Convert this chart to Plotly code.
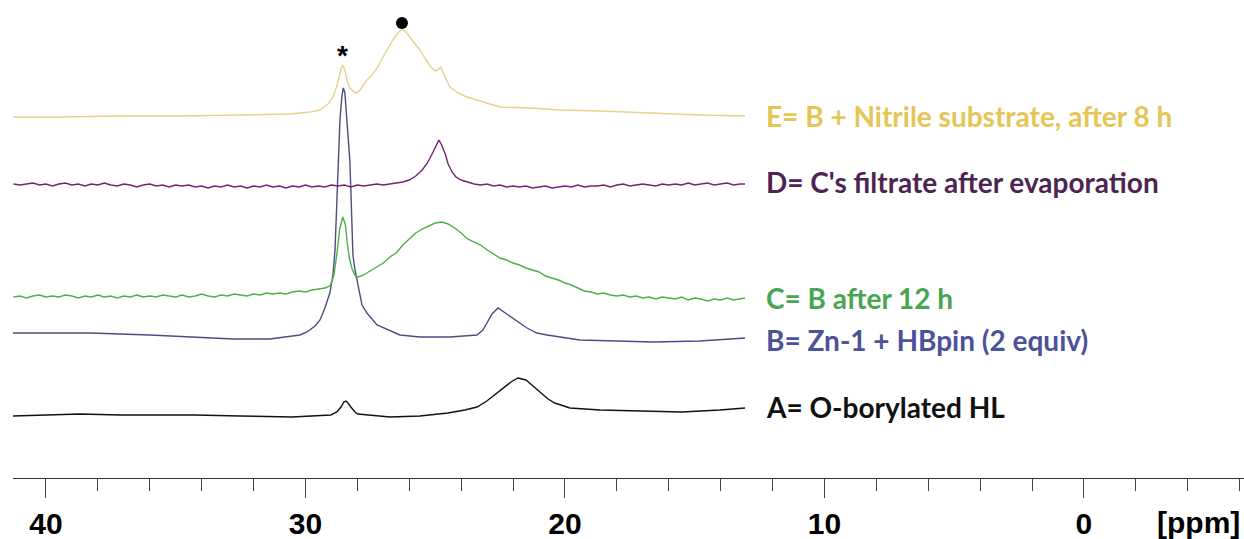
import plotly.graph_objects as go

# ---------------- data (chemical shift in ppm, signal height above each trace's baseline) -------------
ppm_A = [41.27, 40.23, 38.69, 37.15, 35.61, 34.26, 32.52, 30.52, 29.02, 28.79, 28.63, 28.52, 28.44,
         28.36, 28.25, 28.09, 27.98, 26.74, 25.59, 24.51, 23.85, 23.39, 23.01, 22.62, 22.31, 22.08,
         21.81, 21.65, 21.50, 21.23, 20.92, 20.65, 20.39, 19.81, 18.65, 17.38, 15.49, 14.03, 13.06]
int_A = [0, 1, 2, 1, 1, 1, 0, -1, 1, 4, 9, 14, 15,
         13, 9, 4, 2, -1, 0, 3, 6, 9, 15, 23, 30, 34,
         38, 37, 36, 30, 23, 17, 13, 8, 6, 5, 4, 6, 8]

ppm_B = [41.27, 38.30, 35.99, 34.07, 32.79, 31.37, 30.21, 29.94, 29.63, 29.44, 29.25, 29.06, 28.94,
         28.86, 28.80, 28.75, 28.67, 28.59, 28.54, 28.48, 28.40, 28.32, 28.29, 28.25, 28.21, 28.17,
         28.09, 28.02, 27.82, 27.63, 27.24, 26.36, 25.59, 24.43, 23.39, 23.16, 23.01, 22.81, 22.58,
         22.31, 22.00, 21.73, 21.46, 21.08, 20.69, 19.42, 17.88, 16.61, 14.80, 13.26, 13.06]
int_B = [0, 0, -2, -4, -6, -6, -2, 1, 7, 13, 25, 40, 58,
         83, 123, 173, 213, 238, 245, 240, 213, 183, 173, 143, 108, 78,
         63, 53, 28, 20, 8, -2, -4, -4, -2, 3, 10, 19, 25,
         20, 15, 10, 5, 0, -2, -7, -8, -9, -8, -5, -5]

ppm_C = [41.25, 41.0, 40.75, 40.5, 40.25, 40.0, 39.75, 39.5, 39.25, 39.0, 38.75, 38.5, 38.25, 38.0,
         37.75, 37.5, 37.25, 37.0, 36.75, 36.5, 36.25, 36.0, 35.75, 35.5, 35.25, 35.0, 34.75, 34.5,
         34.25, 34.0, 33.75, 33.5, 33.25, 33.0, 32.75, 32.5, 32.25, 32.0, 31.75, 31.5, 31.25, 31.0,
         30.75, 30.5, 30.25, 30.0, 29.75, 29.5, 29.25, 29.05, 28.9, 28.78, 28.68, 28.56, 28.46, 28.38,
         28.3, 28.2, 28.1, 28.0, 27.85, 27.7, 27.5, 27.25, 27.0, 26.75, 26.5, 26.25, 26.0, 25.75,
         25.5, 25.25, 25.0, 24.75, 24.5, 24.25, 24.0, 23.75, 23.5, 23.25, 23.0, 22.75, 22.5, 22.25,
         22.0, 21.75, 21.5, 21.25, 21.0, 20.75, 20.5, 20.25, 20.0, 19.75, 19.5, 19.25, 19.0, 18.75,
         18.5, 18.25, 18.0, 17.75, 17.5, 17.25, 17.0, 16.75, 16.5, 16.25, 16.0, 15.75, 15.5, 15.25,
         15.0, 14.75, 14.5, 14.25, 14.0, 13.75, 13.5, 13.25, 13.06]
int_C = [0, 1, -1, 1, 2, 0, 1, 0, 2, 1, -1, 1, 0, 2,
         0, 1, -1, 1, 0, 2, 0, 1, 0, 2, 1, 0, 2, 0,
         1, 3, 1, 0, 2, 1, 3, 2, 1, 3, 2, 4, 3, 4,
         3, 5, 6, 5, 7, 8, 9, 11, 22, 45, 68, 80, 72, 52,
         38, 28, 22, 20, 21, 23, 26, 30, 34, 40, 44, 52, 58, 64,
         68, 71, 74, 75, 73, 69, 64, 58, 55, 52, 47, 43, 39, 37,
         34, 32, 29, 27, 25, 21, 19, 17, 14, 12, 9, 6, 5, 3,
         4, 2, 1, 2, 0, 1, -1, 0, -2, 0, -1, -2, 0, -3,
         -1, -2, -4, -2, -3, -1, -3, -2, -1]

ppm_D = [41.25, 41.0, 40.75, 40.5, 40.25, 40.0, 39.75, 39.5, 39.25, 39.0, 38.75, 38.5, 38.25, 38.0,
         37.75, 37.5, 37.25, 37.0, 36.75, 36.5, 36.25, 36.0, 35.75, 35.5, 35.25, 35.0, 34.75, 34.5,
         34.25, 34.0, 33.75, 33.5, 33.25, 33.0, 32.75, 32.5, 32.25, 32.0, 31.75, 31.5, 31.25, 31.0,
         30.75, 30.5, 30.25, 30.0, 29.75, 29.5, 29.25, 29.0, 28.75, 28.5, 28.25, 28.0, 27.75, 27.5,
         27.25, 27.0, 26.75, 26.5, 26.25, 26.0, 25.75, 25.5, 25.3, 25.1, 24.95, 24.86, 24.75, 24.6,
         24.5, 24.35, 24.2, 24.0, 23.75, 23.5, 23.25, 23.0, 22.75, 22.5, 22.25, 22.0, 21.75, 21.5,
         21.25, 21.0, 20.75, 20.5, 20.25, 20.0, 19.75, 19.5, 19.25, 19.0, 18.75, 18.5, 18.25, 18.0,
         17.75, 17.5, 17.25, 17.0, 16.75, 16.5, 16.25, 16.0, 15.75, 15.5, 15.25, 15.0, 14.75, 14.5,
         14.25, 14.0, 13.75, 13.5, 13.25, 13.06]
int_D = [1, 0, 1, 2, 0, 1, -1, 1, 2, 0, 1, -1, 1, 0,
         2, 0, -1, 1, 0, -2, 0, 1, -1, 0, -2, 0, -1, 0,
         -2, -1, -3, -1, -2, 0, -2, -1, -3, -1, -2, 0, -2, -1,
         -3, -1, -2, 0, -2, -1, -2, 0, -1, 0, -2, 0, -1, 0,
         1, 0, 1, 2, 3, 5, 9, 15, 22, 32, 41, 45, 40, 30,
         21, 13, 8, 5, 3, 1, 0, 1, -1, 0, -2, -1, -2, -1,
         -3, -2, -1, -3, -2, -1, -2, 0, -2, -1, -1, 0, -2, 0,
         1, -1, 0, 1, 0, -1, 1, 0, 1, 0, 2, 0, 1, 2,
         0, 1, 2, 0, 1, 1]

ppm_E = [41.27, 39.46, 37.15, 34.84, 32.52, 30.60, 29.83, 29.44, 29.13, 28.94, 28.79, 28.71, 28.63,
         28.56, 28.48, 28.40, 28.29, 28.13, 28.02, 27.90, 27.75, 27.63, 27.44, 27.21, 27.01, 26.82,
         26.63, 26.44, 26.28, 26.13, 25.97, 25.78, 25.59, 25.40, 25.20, 25.01, 24.89, 24.78, 24.70,
         24.59, 24.43, 24.12, 23.78, 23.01, 22.50, 21.35, 20.19, 18.65, 16.72, 14.80, 13.06]
int_E = [0, 0, 1, 1, 2, 3, 5, 7, 13, 20, 31, 39, 48,
         52, 47, 37, 29, 25, 24, 27, 32, 37, 42, 50, 60, 69,
         77, 84, 88, 85, 80, 74, 67, 59, 51, 46, 47, 50, 45,
         38, 30, 24, 20, 14, 10, 9, 7, 6, 4, 2, 1]

labels = ["A= O-borylated HL", "B= Zn-1 + HBpin (2 equiv)", "C= B after 12 h",
          "D= C's filtrate after evaporation", "E= B + Nitrile substrate, after 8 h"]
stack_offsets = [62, 145, 181, 293, 361]
label_levels = [71, 138, 180, 296, 362]

line_colors = ["#111111", "#4b4d86", "#4fae4a", "#742474", "#e6d28e"]
text_colors = ["#111111", "#4c5299", "#4aa552", "#4e2452", "#e5c555"]

tick_vals = [40, 30, 20, 10, 0]
tick_text = ["40", "30", "20", "10", "0"]

series = [(ppm_A, int_A), (ppm_B, int_B), (ppm_C, int_C), (ppm_D, int_D), (ppm_E, int_E)]

fig = go.Figure()
for (px, iy), off, col, name in zip(series, stack_offsets, line_colors, labels):
    fig.add_trace(go.Scatter(x=px, y=[v + off for v in iy], mode="lines",
                             line=dict(color=col, width=1.4), name=name, showlegend=False,
                             hoverinfo="skip"))

for lab, lvl, col in zip(labels, label_levels, text_colors):
    fig.add_annotation(x=12.33, y=lvl, xref="x", yref="y", text=lab, showarrow=False,
                       xanchor="left", yanchor="middle",
                       font=dict(family="Lato", size=28, color=col, weight="bold"))

# peak marks on spectrum E: asterisk on the sharp peak near 28.5 ppm, dot on the overall maximum
e_vals = [v + stack_offsets[4] for v in int_E]
i_max = max(range(len(e_vals)), key=lambda i: e_vals[i])
star_idx = max([i for i in range(len(ppm_E)) if 28.0 < ppm_E[i] < 29.0], key=lambda i: e_vals[i])
fig.add_trace(go.Scatter(x=[ppm_E[i_max]], y=[e_vals[i_max] + 6], mode="markers",
                         marker=dict(color="black", size=12), showlegend=False, hoverinfo="skip"))
fig.add_annotation(x=ppm_E[star_idx], y=e_vals[star_idx] + 10, xref="x", yref="y", text="*",
                   showarrow=False, yanchor="middle",
                   font=dict(family="Liberation Sans", size=28, color="black", weight="bold"))

fig.add_annotation(x=-4.43, y=-0.094, xref="x", yref="paper", text="[ppm]", showarrow=False,
                   xanchor="center", yanchor="middle",
                   font=dict(family="Liberation Sans", size=30, color="black", weight="bold"))

fig.update_layout(
    width=1244, height=539,
    margin=dict(l=13, r=0, t=0, b=61),
    paper_bgcolor="white", plot_bgcolor="white",
    xaxis=dict(range=[41.27, -6.17], showgrid=False, zeroline=False,
               showline=True, linecolor="#333333", linewidth=1,
               ticks="outside", ticklen=19, tickwidth=1, tickcolor="#444444",
               tickvals=tick_vals, ticktext=tick_text,
               tickfont=dict(family="Liberation Sans", size=30, color="black", weight="bold"),
               minor=dict(dtick=2, tick0=0, ticks="outside", ticklen=12, tickwidth=1,
                          tickcolor="#444444", showgrid=False)),
    yaxis=dict(range=[0, 478], visible=False, showgrid=False, zeroline=False),
)

fig.write_html("out.html")
